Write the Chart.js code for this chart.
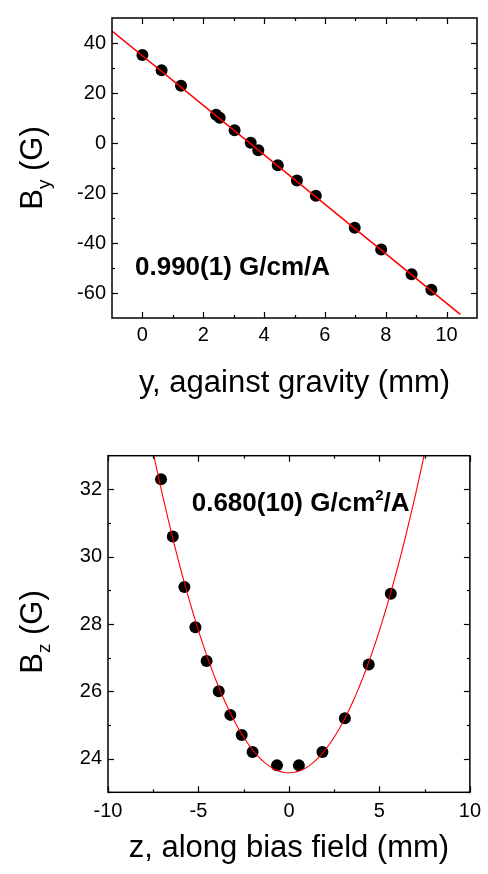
<!DOCTYPE html>
<html>
<head>
<meta charset="utf-8">
<script src="https://cdn.jsdelivr.net/npm/chart.js@4/dist/chart.umd.min.js"></script>
<style>
  html, body { margin: 0; padding: 0; background: #fff; }
  #wrap { position: relative; width: 488px; height: 874px; }
  canvas { position: absolute; left: 0; }
  #cTop { top: 0; }
  #cBot { top: 410px; }
</style>
</head>
<body>
<div id="wrap">
  <canvas id="cTop" width="488" height="410"></canvas>
  <canvas id="cBot" width="488" height="464"></canvas>
</div>
<script>
// ---- Vertical gradient: B_y against height y (mm) ----
const yPos    = [0, 0.63, 1.27, 2.42, 2.54, 3.03, 3.56, 3.81, 4.45, 5.08, 5.70, 6.98, 7.85, 8.85, 9.50];
const byField = [35.2, 29.1, 22.9, 11.3, 10.1, 5.1, 0.1, -2.9, -8.9, -15.0, -21.1, -33.9, -42.6, -52.5, -58.7];
// straight-line fit B_y = intercept + slope * y
const byFitIntercept = 34.9;
const byFitSlope = -9.90;            // G/mm
const byFitSpan = [-1, 10.45];       // mm
const byGradientText = '0.990(1) G/cm/A';
const yTicksTopX = [0, 2, 4, 6, 8, 10];
const yTicksTopXMinor = [1, 3, 5, 7, 9];
const byTicks = [-60, -40, -20, 0, 20, 40];
const byTicksMinor = [-50, -30, -10, 10, 30];

// ---- Axial curvature: B_z along bias field z (mm) ----
const zPos    = [-7.07, -6.42, -5.78, -5.17, -4.55, -3.88, -3.24, -2.61, -2.01, -0.66, 0.55, 1.85, 3.09, 4.41, 5.63];
const bzField = [32.3, 30.6, 29.1, 27.9, 26.9, 26.0, 25.3, 24.7, 24.2, 23.8, 23.8, 24.2, 25.2, 26.8, 28.9];
// parabolic fit B_z = min + curv * (z - center)^2
const bzFitMin = 23.58;
const bzFitCurv = 0.169;             // G/mm^2
const bzFitCenter = 0;
const bzFitSpan = [-7.6, 7.6];
const bzCurvatureText = ['0.680(10) G/cm', '2', '/A'];
const zTicks = [-10, -5, 0, 5, 10];
const zTicksMinor = [-7.5, -2.5, 2.5, 7.5];
const bzTicks = [24, 26, 28, 30, 32];
const bzTicksMinor = [23, 25, 27, 29, 31];

const FONT = "'Liberation Sans', Arial, Helvetica, sans-serif";
const TICK_PX = 20;
const TITLE_PX = 31;

function fitLine(span, steps, f) {
  const pts = [];
  for (let i = 0; i <= steps; i++) {
    const x = span[0] + (span[1] - span[0]) * i / steps;
    pts.push({ x, y: f(x) });
  }
  return pts;
}

function axis(min, max, major, pad, size, isX) {
  return {
    type: 'linear', min, max,
    afterBuildTicks: s => { s.ticks = major.map(v => ({ value: v })); },
    afterFit: s => { if (isX) s.height = size; else s.width = size; },
    grid: { display: false, drawTicks: false },
    border: { display: false },
    ticks: {
      color: '#000', padding: pad, maxRotation: 0, autoSkip: false,
      font: { family: FONT, size: TICK_PX },
      callback: v => String(v)
    }
  };
}

// Box frame with inward major/minor ticks on all four sides
const framePlugin = {
  id: 'frame',
  afterDraw(chart, args, o) {
    const { ctx, chartArea: a, scales: { x, y } } = chart;
    ctx.save();
    ctx.strokeStyle = '#000';
    const seg = (x1, y1, x2, y2) => { ctx.beginPath(); ctx.moveTo(x1, y1); ctx.lineTo(x2, y2); ctx.stroke(); };
    ctx.lineWidth = 1.2;
    const xt = (vals, len) => vals.forEach(v => {
      const p = Math.round(x.getPixelForValue(v)) + 0.5;
      seg(p, a.bottom, p, a.bottom - len); seg(p, a.top, p, a.top + len);
    });
    const yt = (vals, len) => vals.forEach(v => {
      const p = Math.round(y.getPixelForValue(v)) + 0.5;
      seg(a.left, p, a.left + len, p); seg(a.right, p, a.right - len, p);
    });
    xt(o.xMajor, 6); xt(o.xMinor, 3);
    yt(o.yMajor, 6); yt(o.yMinor, 3);
    ctx.lineWidth = 1.5;
    ctx.strokeRect(a.left, a.top, a.right - a.left, a.bottom - a.top);
    ctx.restore();
  }
};

// Rich text (sub/superscripts) for axis titles and annotations
function drawRich(ctx, parts, x, y, align, rot) {
  ctx.save();
  ctx.translate(x, y);
  if (rot) ctx.rotate(rot);
  ctx.textBaseline = 'alphabetic';
  ctx.textAlign = 'left';
  let w = 0;
  parts.forEach(p => { ctx.font = p.font; p.w = ctx.measureText(p.text).width; w += p.w; });
  let cx = align === 'center' ? -w / 2 : 0;
  ctx.fillStyle = '#000';
  parts.forEach(p => { ctx.font = p.font; ctx.fillText(p.text, cx, p.dy || 0); cx += p.w; });
  ctx.restore();
}

const textPlugin = {
  id: 'texts',
  afterDraw(chart, args, o) {
    const { ctx, chartArea: a } = chart;
    const midX = (a.left + a.right) / 2, midY = (a.top + a.bottom) / 2;
    drawRich(ctx, [{ text: o.xTitle, font: `${TITLE_PX}px ${FONT}` }], midX, a.bottom + o.xTitleGap, 'center', 0);
    drawRich(ctx, [
      { text: 'B', font: `${TITLE_PX}px ${FONT}` },
      { text: o.ySub, font: `19px ${FONT}`, dy: 8 },
      { text: ' (G)', font: `${TITLE_PX}px ${FONT}` }
    ], a.left - o.yTitleGap, midY + o.yTitleShift, 'center', -Math.PI / 2);
    drawRich(ctx, o.note, o.noteX, o.noteY, 'left', 0);
  }
};

const commonOpts = {
  responsive: false,
  animation: false,
  events: [],
  plugins: { legend: { display: false }, tooltip: { enabled: false } }
};

// Top panel: B_y vs y
new Chart(document.getElementById('cTop'), {
  data: {
    datasets: [
      {
        type: 'line', order: 0,
        data: fitLine(byFitSpan, 1, v => byFitIntercept + byFitSlope * v),
        borderColor: '#ff0000', borderWidth: 1.6, pointRadius: 0, fill: false
      },
      {
        type: 'scatter', order: 1,
        data: yPos.map((v, i) => ({ x: v, y: byField[i] })),
        backgroundColor: '#000', borderWidth: 0, pointRadius: 6
      }
    ]
  },
  options: {
    ...commonOpts,
    layout: { padding: { top: 9, right: 11, left: 0, bottom: 0 } },
    scales: {
      x: axis(-1, 11, yTicksTopX, 5, 92, true),
      y: axis(-70, 50, byTicks, 6, 112, false)
    },
    plugins: {
      ...commonOpts.plugins,
      frame: { xMajor: yTicksTopX, xMinor: yTicksTopXMinor, yMajor: byTicks, yMinor: byTicksMinor },
      texts: {
        xTitle: 'y, against gravity (mm)', xTitleGap: 74,
        ySub: 'y', yTitleGap: 70, yTitleShift: 0,
        note: [{ text: byGradientText, font: `bold 26px ${FONT}` }], noteX: 135, noteY: 275
      }
    }
  },
  plugins: [framePlugin, textPlugin]
});

// Bottom panel: B_z vs z
new Chart(document.getElementById('cBot'), {
  data: {
    datasets: [
      {
        type: 'line', order: 0,
        data: fitLine(bzFitSpan, 152, v => bzFitMin + bzFitCurv * (v - bzFitCenter) ** 2),
        borderColor: '#ff0000', borderWidth: 1.1, pointRadius: 0, fill: false, tension: 0
      },
      {
        type: 'scatter', order: 1,
        data: zPos.map((v, i) => ({ x: v, y: bzField[i] })),
        backgroundColor: '#000', borderWidth: 0, pointRadius: 6
      }
    ]
  },
  options: {
    ...commonOpts,
    layout: { padding: { top: 45.7, right: 15.3, left: 0, bottom: 0 } },
    scales: {
      x: axis(-10, 10, zTicks, 7, 81.7, true),
      y: axis(23, 33, bzTicks, 6, 108, false)
    },
    plugins: {
      ...commonOpts.plugins,
      frame: { xMajor: zTicks, xMinor: zTicksMinor, yMajor: bzTicks, yMinor: bzTicksMinor },
      texts: {
        xTitle: 'z, along bias field (mm)', xTitleGap: 64.4,
        ySub: 'z', yTitleGap: 66, yTitleShift: 8,
        note: [
          { text: bzCurvatureText[0], font: `bold 26px ${FONT}` },
          { text: bzCurvatureText[1], font: `bold 15px ${FONT}`, dy: -11 },
          { text: bzCurvatureText[2], font: `bold 26px ${FONT}` }
        ],
        noteX: 191.7, noteY: 100.7
      }
    }
  },
  plugins: [framePlugin, textPlugin]
});
</script>
</body>
</html>
